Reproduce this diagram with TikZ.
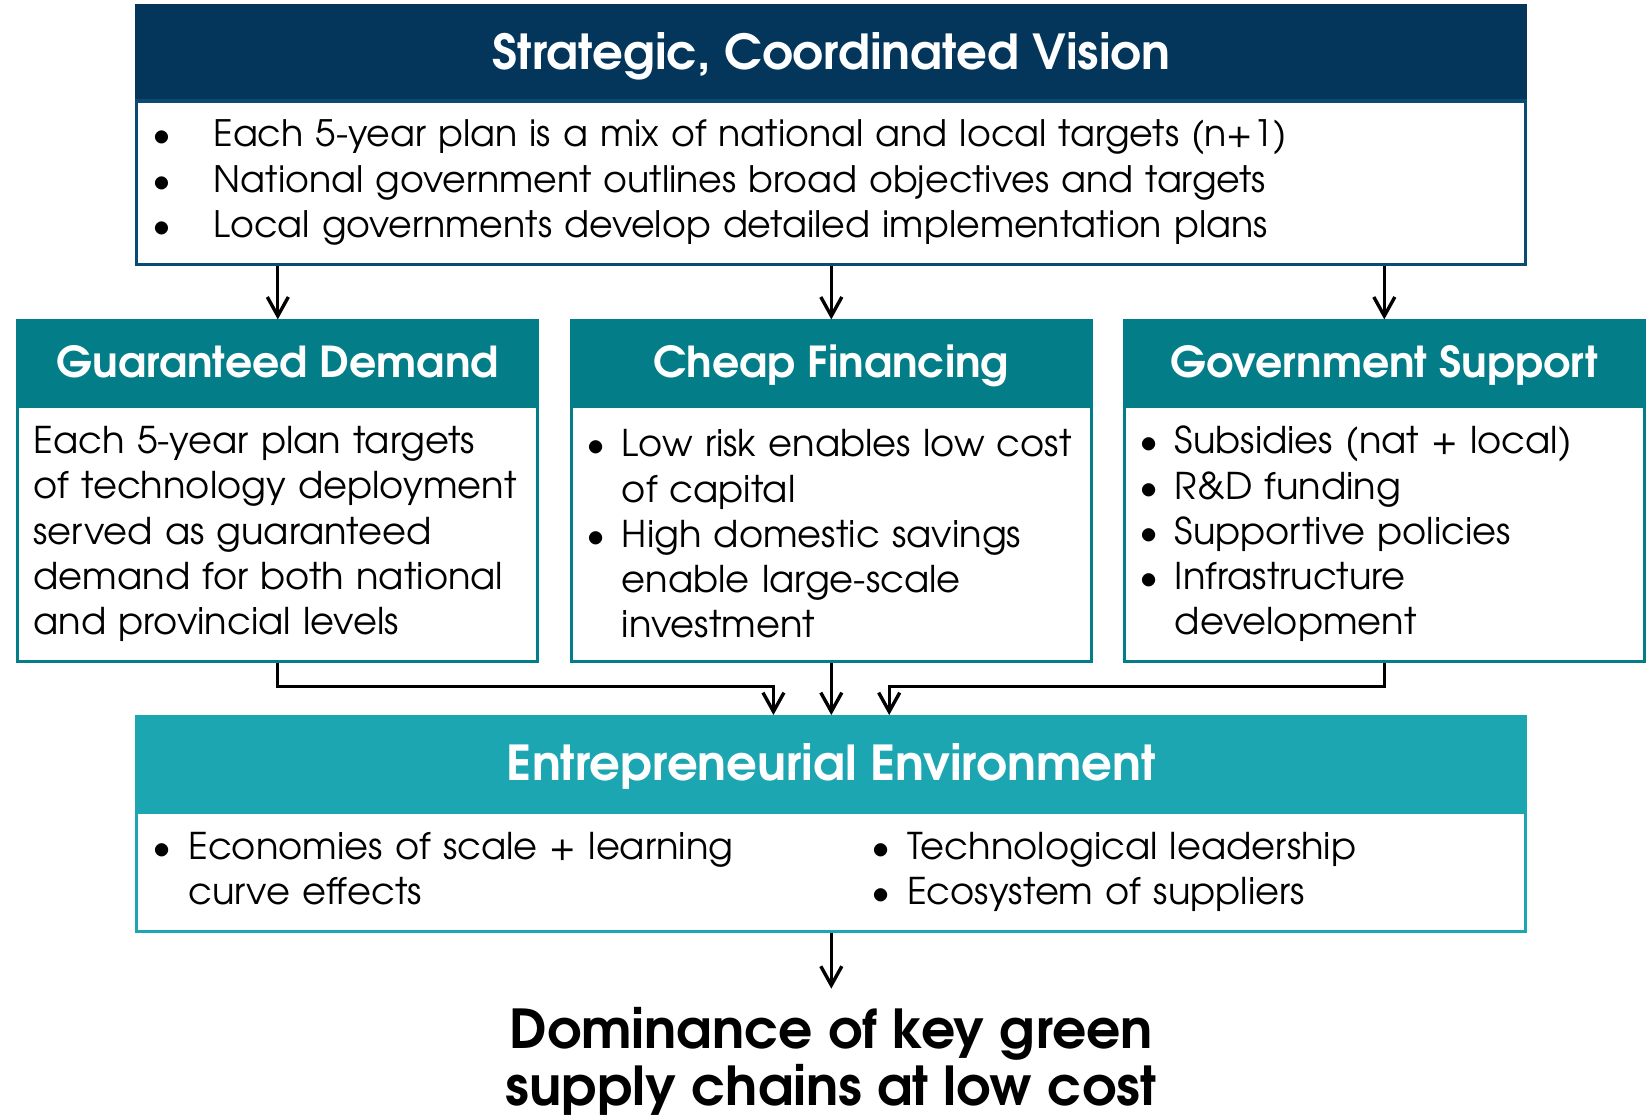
\documentclass[tikz,border=0pt]{standalone}
\usepackage{fontspec}
\setmainfont{TeX Gyre Adventor}
\usetikzlibrary{arrows.meta,positioning}

\definecolor{navyhd}{HTML}{03365A}
\definecolor{navyln}{HTML}{0B4A73}
\definecolor{tealhd}{HTML}{037E89}
\definecolor{lighthd}{HTML}{1CA6B1}

% bullet item with hanging indent
\newcommand{\itm}[2][16.5pt]{\hangindent=#1\hangafter=1\noindent\makebox[#1][l]{\textbullet}#2\par}

\tikzset{
  head/.style={draw=#1, fill=#1, line width=1.5pt, text=white, inner sep=0pt},
  panel/.style={draw=#1, fill=white, line width=1.5pt, align=left, inner ysep=0pt,
    font=\fontsize{17.5}{21.5}\selectfont},
  bigfont/.style={font=\bfseries\fontsize{22.9}{26}\selectfont, text height=16.9pt, text depth=0pt},
  midfont/.style={font=\bfseries\fontsize{20.25}{24}\selectfont, text height=15pt, text depth=0pt},
  arr/.style={-{Straight Barb[length=9pt,width=10pt]}, line width=1.6pt},
}

\begin{document}
\begin{tikzpicture}[x=0.5pt,y=-0.5pt]
  \useasboundingbox (0,0) rectangle (1568,1059);

  % top box
  \node[head=navyhd, bigfont, minimum width=660pt, minimum height=44pt] (vis) at (790,49) {Strategic, Coordinated Vision};
  \node[panel=navyln, below=0pt of vis, text width=645pt, inner xsep=7.5pt, minimum height=77.5pt,
    font=\fontsize{17.3}{21.5}\selectfont] (visbody) {%
    \itm[29pt]{Each 5-year plan is a mix of national and local targets (n+1)}
    \itm[29pt]{National government outlines broad objectives and targets}
    \itm[29pt]{Local governments develop detailed implementation plans}};

  % three pillars
  \node[head=tealhd, midfont, minimum width=247pt, minimum height=39pt] (dem) at (264,344) {Guaranteed Demand};
  \node[panel=tealhd, below=0pt of dem, text width=232pt, inner xsep=7.5pt, minimum height=121.5pt] (dembody) {%
    Each 5-year plan targets\\ of technology deployment\\ served as guaranteed\\ demand for both national\\ and provincial levels};

  \node[head=tealhd, midfont, minimum width=247pt, minimum height=39pt] (fin) at (790,344) {Cheap Financing};
  \node[panel=tealhd, below=0pt of fin, text width=233pt, inner xsep=7pt, minimum height=121.5pt] (finbody) {%
    \itm[17pt]{Low risk enables low cost\newline of capital}
    \itm[17pt]{High domestic savings\newline enable large-scale\newline investment}\vspace{3pt}};

  \node[head=tealhd, midfont, minimum width=247pt, minimum height=39pt] (gov) at (1315.5,344) {Government Support};
  \node[panel=tealhd, below=0pt of gov, text width=233pt, inner xsep=7pt, minimum height=121.5pt] (govbody) {%
    \itm[17pt]{Subsidies (nat + local)}
    \itm[17pt]{R\&D funding}
    \itm[17pt]{Supportive policies}
    \itm[17pt]{Infrastructure\newline development}};

  % bottom box
  \node[head=lighthd, bigfont, minimum width=660pt, minimum height=44pt] (ent) at (790,725) {Entrepreneurial Environment};
  \node[panel=lighthd, below=0pt of ent, text width=645pt, inner xsep=7.5pt, minimum height=56.5pt] (entbody) {%
    \parbox[t]{341.5pt}{\itm[17pt]{Economies of scale + learning\newline curve effects}}%
    \parbox[t]{303pt}{\itm[17pt]{Technological leadership}
      \itm[17pt]{Ecosystem of suppliers}}};

  \node[font=\bfseries\fontsize{25.5}{27}\selectfont, align=center] (dom) at (790,1009) {Dominance of key green\\ supply chains at low cost};

  % arrows
  \foreach \n in {dem,fin,gov}
    \draw[arr] (visbody.south -| \n.north) -- (\n.north);
  \coordinate (inL) at ([xshift=-27.5pt]ent.north);
  \coordinate (inR) at ([xshift=27.5pt]ent.north);
  \draw[arr] (dembody.south) |- ([yshift=13.5pt]inL) -- (inL);
  \draw[arr] (finbody.south) -- (ent.north);
  \draw[arr] (govbody.south) |- ([yshift=13.5pt]inR) -- (inR);
  \draw[arr] (entbody.south) -- ++(0,53);

\end{tikzpicture}
\end{document}
